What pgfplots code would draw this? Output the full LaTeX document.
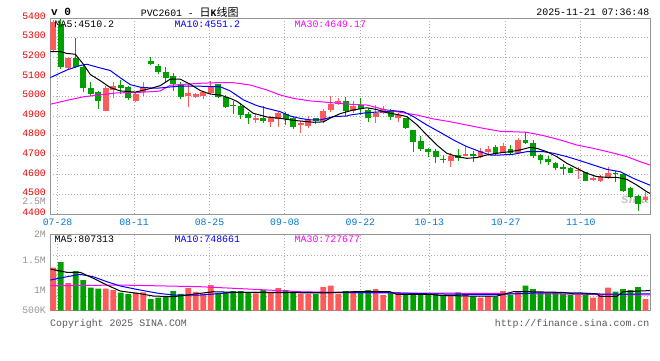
\documentclass[border=0pt]{standalone}
\usepackage{pgfplots}
\pgfplotsset{compat=1.18}
\usepackage{pgfplotstable}
\usepackage{fontspec}
\setmainfont{Liberation Mono}
\setsansfont{Liberation Sans}
\newfontfamily\cjk{Noto Sans CJK SC}
\definecolor{cred}{RGB}{255,90,90}
\definecolor{cgreen}{RGB}{0,160,0}
\definecolor{tickred}{RGB}{235,0,0}
\definecolor{dateblue}{RGB}{0,120,215}
\definecolor{labgray}{RGB}{150,150,150}
\definecolor{gridgray}{RGB}{175,175,175}
\definecolor{framegray}{RGB}{150,150,150}
\definecolor{maten}{RGB}{0,0,255}
\definecolor{mathirty}{RGB}{255,0,255}
\definecolor{foot}{RGB}{90,90,90}
\definecolor{wmark}{RGB}{200,200,200}

% red (up) candles: index, body low, body high, low, high
\pgfplotstableread{
x lo hi low high
0 5237 5378 5225 5390
2 5143 5198 5138 5203
7 4928 5045 4928 5055
8 5035 5055 4994 5072
11 4977 5014 4970 5020
12 5021 5048 5000 5075
18 5004 5016 4948 5067
19 4999 5011 4994 5016
20 5002 5021 4987 5028
21 5019 5053 5011 5081
27 4880 4892 4866 4912
29 4871 4888 4846 4900
30 4883 4917 4846 4919
33 4856 4862 4815 4875
34 4849 4887 4837 4900
36 4875 4924 4863 4934
37 4931 4963 4922 5000
38 4963 4979 4955 4990
40 4926 4953 4917 4979
43 4897 4917 4866 4956
44 4917 4936 4909 4949
46 4892 4905 4868 4914
53 4671 4696 4640 4710
55 4696 4706 4696 4747
57 4691 4722 4684 4735
58 4715 4732 4705 4747
60 4710 4747 4710 4761
62 4713 4776 4708 4790
70 4618 4623 4579 4642
72 4574 4586 4569 4599
73 4569 4591 4562 4599
74 4582 4611 4577 4638
79 4472 4489 4463 4514
}\redK

% green (down) candles
\pgfplotstableread{
x lo hi low high
1 5148 5370 5140 5395
3 5152 5198 5143 5300
4 5042 5152 5021 5160
5 5013 5045 5000 5072
6 4979 5021 4936 5028
9 5045 5058 5014 5082
10 4994 5048 4982 5053
13 5167 5181 5160 5200
14 5123 5157 5113 5164
15 5096 5123 5075 5149
16 5062 5104 5028 5118
17 4997 5062 4989 5075
22 4996 5064 4990 5064
23 4948 4999 4943 5007
24 4953 4958 4912 4977
25 4905 4953 4885 4965
26 4892 4912 4861 4919
28 4875 4892 4866 4951
31 4887 4912 4854 4921
32 4846 4892 4832 4897
35 4875 4888 4858 4888
39 4926 4977 4902 4999
41 4936 4956 4907 4992
42 4892 4931 4868 4939
45 4897 4927 4880 4934
47 4841 4892 4834 4892
48 4769 4829 4717 4829
49 4732 4773 4722 4798
50 4717 4732 4691 4739
51 4691 4722 4662 4730
52 4678 4683 4662 4701
54 4688 4701 4672 4730
56 4698 4705 4667 4722
59 4705 4744 4701 4752
61 4713 4732 4701 4752
63 4761 4778 4756 4820
64 4696 4764 4688 4778
65 4676 4701 4657 4708
66 4667 4683 4650 4698
67 4637 4662 4623 4667
68 4630 4642 4600 4655
69 4611 4635 4608 4642
71 4570 4613 4570 4616
75 4603 4608 4565 4620
76 4518 4604 4514 4608
77 4487 4533 4484 4540
78 4451 4494 4416 4497
}\greenK

% volumes (millions)
\pgfplotstableread{
x v
0 1.258
2 0.960
7 0.849
8 0.823
11 0.771
12 0.777
18 0.862
19 0.785
20 0.750
21 0.920
27 0.759
29 0.777
30 0.862
33 0.750
34 0.750
36 0.882
37 0.907
38 0.751
40 0.804
43 0.843
44 0.726
46 0.777
53 0.726
55 0.726
57 0.673
58 0.706
60 0.804
62 0.804
70 0.726
72 0.673
73 0.726
74 0.868
79 0.648
}\redV
\pgfplotstableread{
x v
1 1.369
3 1.194
4 1.018
5 0.868
6 0.849
9 0.771
10 0.746
13 0.648
14 0.673
15 0.700
16 0.804
17 0.746
22 0.765
23 0.777
24 0.804
25 0.804
26 0.777
28 0.823
31 0.823
32 0.777
35 0.746
39 0.804
41 0.804
42 0.823
45 0.777
47 0.726
48 0.726
49 0.726
50 0.726
51 0.751
52 0.726
54 0.777
56 0.700
59 0.693
61 0.726
63 0.907
64 0.843
65 0.777
66 0.759
67 0.777
68 0.751
69 0.726
71 0.726
75 0.790
76 0.843
77 0.823
78 0.882
}\greenV

\pgfplotsset{
  tf/.style={font=\fontsize{9.8}{10}\selectfont},
  panel/.style={
    scale only axis, anchor=south west, width=599.7pt,
    xmin=-0.4, xmax=79.6,
    axis line style={framegray, line width=1pt},
    major tick length=0pt,
    grid style={gridgray, line width=1pt, dash pattern=on 1pt off 2pt},
    xmajorgrids, ymajorgrids,
    xtick={0.57,10.77,20.84,30.89,40.96,50.17,60.36,70.37},
    ticklabel style={tf},
    clip=true,
  },
  candle/.style 2 args={draw=none, mark=none, forget plot,
    error bars/.cd, y dir=plus, y explicit, error mark=none,
    error bar style={draw=#1, solid, line width=#2, line cap=butt}},
}

\begin{document}
\begin{tikzpicture}[x=1pt,y=1pt]
\useasboundingbox (0,0) rectangle (660,360);
\fill[white] (0,0) rectangle (660,360);

% ---------- price panel ----------
\begin{axis}[panel,
  at={(50.3pt,146pt)}, height=196pt,
  ymin=4400, ymax=5400,
  ytick={4400,4500,4600,4700,4800,4900,5000,5100,5200,5300,5400},
  yticklabels={4400,4500,4600,4700,4800,4900,5000,5100,5200,5300,5400},
  yticklabel style={tickred, anchor=east, inner sep=0pt, xshift=-4.3pt, yshift=2pt},
  extra y ticks={4457}, extra y tick labels={2.5M},
  extra y tick style={grid=none, yticklabel style={labgray}},
  xticklabels={07-28,08-11,08-25,09-08,09-22,10-13,10-27,11-10},
  xticklabel style={dateblue, anchor=north, inner sep=0pt, yshift=-4.3pt},
]
% watermark
\node[wmark, font=\sffamily\bfseries\itshape\fontsize{14}{14}\selectfont, inner sep=0pt]
  at (axis cs:77.6,4480) {sina};
% wicks
\addplot[candle={cred}{1pt}]
  table[x=x, y=low, y error plus expr=\thisrow{high}-\thisrow{low}] {\redK};
\addplot[candle={cgreen}{1pt}]
  table[x=x, y=low, y error plus expr=\thisrow{high}-\thisrow{low}] {\greenK};
% bodies
\addplot[candle={cred}{5.8pt}]
  table[x=x, y=lo, y error plus expr=\thisrow{hi}-\thisrow{lo}] {\redK};
\addplot[candle={cgreen}{5.8pt}]
  table[x=x, y=lo, y error plus expr=\thisrow{hi}-\thisrow{lo}] {\greenK};
% MA30
\addplot[mathirty, line width=1pt, mark=none] coordinates {
(-0.4,4960) (1.83,4980) (4.04,4998) (6.27,5008) (8.49,5018) (11.16,5020) (13.83,5026)
(14.27,5028) (15.6,5057) (19.6,5067) (21.83,5070) (24.04,5070) (26.27,5058) (28.49,5033)
(30.27,5007) (32.04,4990) (34.27,4977) (36.49,4970) (39.6,4960) (41.83,4956) (44.04,4934)
(46.27,4919) (48.49,4905) (50.71,4885) (52.93,4871) (55.16,4854) (57.37,4837) (59.6,4822)
(63.16,4817) (65.37,4800) (67.6,4778) (69.83,4752) (72.04,4735) (74.27,4715) (76.49,4693)
(78.27,4667) (79.6,4650)};
% MA10
\addplot[maten, line width=1pt, mark=none] coordinates {
(-0.4,5096) (1.83,5135) (3.6,5158) (4.49,5164) (6.27,5145) (7.6,5132) (8.93,5095)
(10.27,5060) (11.6,5047) (13.37,5042) (14.27,5043) (16.93,5053) (19.6,5052) (22.27,5049)
(23.6,5028) (25.37,4982) (27.16,4953) (28.49,4939) (30.27,4922) (31.6,4900) (32.93,4888)
(34.27,4880) (35.6,4880) (36.49,4888) (37.37,4897) (39.16,4900) (39.6,4905) (41.83,4917)
(44.04,4922) (45.37,4927) (46.71,4922) (48.04,4897) (49.83,4854) (51.6,4817) (53.37,4778)
(55.16,4744) (56.93,4718) (58.27,4701) (59.6,4701) (61.37,4705) (63.16,4718) (65.37,4718)
(66.71,4710) (68.49,4693) (70.27,4672) (72.04,4650) (73.83,4628) (75.6,4616) (77.37,4582)
(79.6,4547)};
% MA5
\addplot[black, line width=1pt, mark=none] coordinates {
(-0.4,5229) (0.93,5229) (1.73,5220) (2.93,5215) (4,5165) (4.93,5112) (6.27,5080) (7.6,5045)
(8.93,5028) (10.93,5022) (12.93,5040) (14.27,5055) (15.6,5088) (16.93,5088) (18.27,5062)
(19.6,5030) (20.93,5012) (22.27,5007) (23.6,4990) (24.49,4975) (25.37,4951) (26.67,4914)
(28.49,4895) (30.27,4888) (32,4878) (34.71,4868) (36.04,4870) (36.93,4889) (38.27,4912)
(40.04,4931) (41.83,4942) (43.16,4933) (44.49,4917) (46.27,4905) (47.16,4897) (48.49,4856)
(49.83,4803) (51.16,4752) (52.49,4710) (53.83,4693) (55.16,4684) (56.49,4688) (57.83,4701)
(59.16,4710) (60.93,4718) (62.27,4727) (63.6,4740) (64.49,4735) (65.83,4718) (67.16,4693)
(68.49,4659) (69.83,4633) (71.16,4608) (72.49,4591) (73.83,4587) (75.16,4587) (76.49,4577)
(77.83,4548) (79.16,4514) (79.6,4505)};
\end{axis}

% ---------- volume panel ----------
\begin{axis}[panel,
  at={(50.3pt,49.3pt)}, height=76.4pt,
  ymin=0.42, ymax=1.91,
  ytick={0.70,1.10,1.50}, yticklabels={},
  xticklabels={},
  extra y ticks={0.42,0.823,1.408,1.91},
  extra y tick labels={500K,1M,1.5M,2M},
  extra y tick style={grid=none},
  yticklabel style={labgray, anchor=east, inner sep=0pt, xshift=-4.3pt},
]
\addplot[ybar, bar width=5.7pt, bar shift=0pt, fill=cred, draw=none] table[x=x, y=v] {\redV};
\addplot[ybar, bar width=5.7pt, bar shift=0pt, fill=cgreen, draw=none] table[x=x, y=v] {\greenV};
\addplot[mathirty, line width=1pt, mark=none] coordinates {
(-0.4,0.907) (8.93,0.92) (13.37,0.907) (19.6,0.888) (26,0.843) (32.93,0.79) (36.93,0.777)
(45,0.765) (55,0.76) (65,0.75) (75,0.735) (79.6,0.728)};
\addplot[maten, line width=1pt, mark=none] coordinates {
(-0.4,1.018) (1.83,1.083) (3.6,1.129) (5.37,1.08) (7.16,0.985) (8.93,0.901) (11.6,0.823)
(14,0.759) (16.04,0.726) (19.6,0.726) (21.37,0.745) (24.04,0.777) (28.49,0.777) (36.93,0.777)
(45,0.77) (50,0.75) (55,0.74) (60,0.74) (65,0.77) (70,0.77) (73,0.745) (76,0.74) (79.6,0.749)};
\addplot[black, line width=1pt, mark=none] coordinates {
(-0.4,1.233) (1.83,1.168) (3.6,1.168) (5.37,1.05) (7.16,0.92) (8.93,0.804) (11.6,0.751)
(13.37,0.706) (16.04,0.693) (17.83,0.726) (19.6,0.759) (21.37,0.79) (24.04,0.78) (28.49,0.775)
(32.93,0.77) (36.93,0.77) (40,0.79) (44.93,0.79) (45.83,0.738) (50.27,0.738) (51.5,0.72)
(55.6,0.706) (59.16,0.706) (61.37,0.79) (63.6,0.79) (68.04,0.777) (69.37,0.75) (72.49,0.75)
(72.93,0.70) (75.16,0.70) (76.04,0.79) (79.16,0.81) (79.6,0.81)};
\end{axis}

% ---------- texts ----------
\node[anchor=west, inner sep=0pt, font=\fontsize{11}{12}\selectfont\bfseries] at (51,348) {v 0};
\node[anchor=west, inner sep=0pt, font=\fontsize{9.8}{10}\selectfont] at (140.7,348)
  {PVC2601 - {\cjk\fontsize{11}{12}\selectfont 日}\textbf{K}{\cjk\fontsize{11}{12}\selectfont 线图}};
\node[anchor=east, inner sep=0pt, font=\fontsize{9.9}{10}\selectfont] at (649.5,348) {2025-11-21 07:36:48};

\node[anchor=west, inner sep=0pt, font=\fontsize{9.9}{10}\selectfont, black] at (54.5,336) {MA5:4510.2};
\node[anchor=west, inner sep=0pt, font=\fontsize{9.9}{10}\selectfont, maten] at (174.5,336) {MA10:4551.2};
\node[anchor=west, inner sep=0pt, font=\fontsize{9.9}{10}\selectfont, mathirty] at (294.5,336) {MA30:4649.17};

\node[anchor=west, inner sep=0pt, font=\fontsize{9.9}{10}\selectfont, black] at (54.5,121) {MA5:807313};
\node[anchor=west, inner sep=0pt, font=\fontsize{9.9}{10}\selectfont, maten] at (174.5,121) {MA10:748661};
\node[anchor=west, inner sep=0pt, font=\fontsize{9.9}{10}\selectfont, mathirty] at (294.5,121) {MA30:727677};

\node[anchor=west, inner sep=0pt, font=\fontsize{9.9}{10}\selectfont, foot] at (50,36.5) {Copyright 2025 SINA.COM};
\node[anchor=east, inner sep=0pt, font=\fontsize{9.9}{10}\selectfont, foot] at (649.5,36) {http://finance.sina.com.cn};
\end{tikzpicture}
\end{document}
